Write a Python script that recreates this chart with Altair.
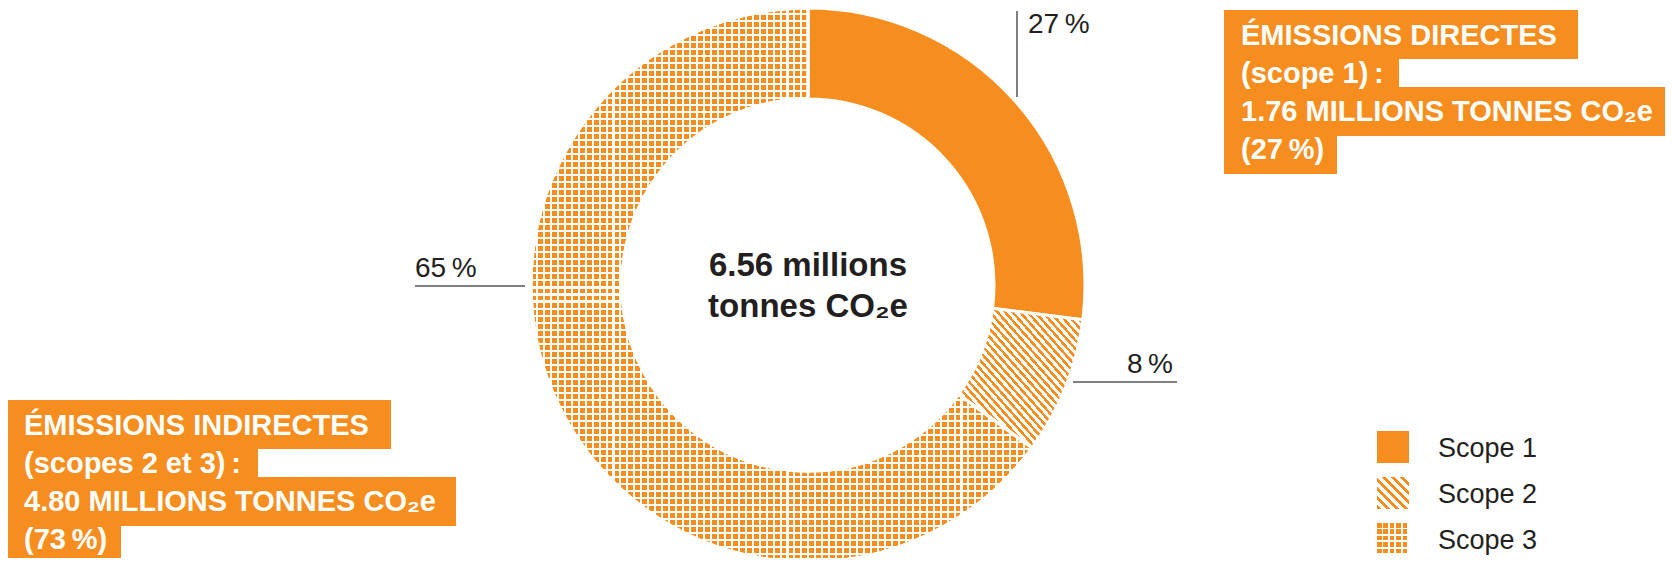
import altair as alt
import pandas as pd

# ---------------- data ----------------
scopes = ["Scope 1", "Scope 2", "Scope 3"]
shares = [27, 8, 65]            # % of total emissions
total_mt = 6.56                 # millions tonnes CO2e
direct_mt = 1.76                # scope 1
indirect_mt = 4.80              # scopes 2 + 3
direct_pct = 27
indirect_pct = 73

# ---------------- style ----------------
ORANGE = "#F68E1F"
WHITE = "#FFFFFF"
CLEAR = "rgba(255,255,255,0)"
INK = "#231F20"
LINE = "#555555"
FONT = "Liberation Sans"
TS = "\u2009"  # thin space

W, H = 1657, 550
CX, CY = 800, 277
R_OUT, R_IN = 277, 186

df = pd.DataFrame({"scope": scopes, "share": shares, "order": list(range(len(scopes)))})
one = pd.DataFrame({"k": [0]})


def stripes(n, on_frac, on, off, x1=0, y1=0, x2=1, y2=0):
    stops = []
    for i in range(n):
        a = i / n
        b = (i + on_frac) / n
        c = (i + 1) / n
        stops += [
            alt.GradientStop(offset=a, color=on),
            alt.GradientStop(offset=b, color=on),
            alt.GradientStop(offset=b, color=off),
            alt.GradientStop(offset=c, color=off),
        ]
    return alt.LinearGradient(gradient="linear", stops=stops, x1=x1, y1=y1, x2=x2, y2=y2)


base = alt.Chart(df).transform_window(
    cum="sum(share)", sort=[alt.SortField("order")], frame=[None, 0]
).transform_calculate(start="datum.cum - datum.share")

theta_scale = alt.Scale(domain=[0, 100], range=[0, 6.283185307179586])


def arc_layer(scope, fill):
    return base.transform_filter(alt.datum.scope == scope).mark_arc(
        innerRadius=R_IN, outerRadius=R_OUT, fill=fill, stroke=WHITE, strokeWidth=3
    ).encode(
        theta=alt.Theta("start:Q", scale=theta_scale),
        theta2="cum:Q",
        x=alt.value(CX),
        y=alt.value(CY),
    )


arcs = [
    arc_layer("Scope 1", ORANGE),
    arc_layer("Scope 2", stripes(33, 0.45, ORANGE, WHITE, x1=0, y1=1, x2=1, y2=0)),
    arc_layer("Scope 3", stripes(72, 0.71, ORANGE, WHITE, x2=1, y2=0)),
    arc_layer("Scope 3", stripes(79, 0.71, CLEAR, WHITE, x2=0, y2=1)),
]

# ---------------- legend ----------------
leg_y = alt.Y("scope:N", scale=alt.Scale(type="point", range=[439, 531], padding=0), axis=None)


def leg_square(scope, fill):
    return alt.Chart(df).transform_filter(alt.datum.scope == scope).mark_square(
        size=1024, fill=fill, opacity=1, strokeWidth=0
    ).encode(x=alt.value(1385), y=leg_y)


legend = [
    leg_square("Scope 1", ORANGE),
    leg_square("Scope 2", stripes(7, 0.45, ORANGE, WHITE, x1=0, y1=1, x2=1, y2=0)),
    leg_square("Scope 3", stripes(5, 0.72, ORANGE, WHITE, x2=1, y2=0)),
    leg_square("Scope 3", stripes(5, 0.72, CLEAR, WHITE, x2=0, y2=1)),
    alt.Chart(df).mark_text(align="left", baseline="alphabetic", dy=10, font=FONT,
                            fontSize=27, color=INK).encode(
        x=alt.value(1430), y=leg_y, text="scope:N"),
]

# ---------------- percent labels + leader lines ----------------


def pct_label(scope, x, y, align):
    return base.transform_filter(alt.datum.scope == scope).transform_calculate(
        label=f"datum.share + '{TS}%'"
    ).mark_text(align=align, baseline="alphabetic", font=FONT, fontSize=28, color=INK).encode(
        x=alt.value(x), y=alt.value(y), text="label:N")


def rule(x, x2, y, y2):
    return alt.Chart(one).mark_rule(color=LINE, strokeWidth=1.5).encode(
        x=alt.value(x), x2=alt.value(x2), y=alt.value(y), y2=alt.value(y2))


labels = [
    rule(1009, 1009, 3, 89), pct_label("Scope 1", 1020, 25, "left"),
    rule(1065, 1169, 374, 374), pct_label("Scope 2", 1165, 365, "right"),
    rule(407, 517, 278, 278), pct_label("Scope 3", 407, 269, "left"),
]

# ---------------- centre text ----------------
centre = alt.Chart(one).mark_text(
    align="center", baseline="alphabetic", font=FONT, fontSize=33, fontWeight="bold",
    color=INK, lineHeight=41
).encode(x=alt.value(CX), y=alt.value(268),
         text=alt.value([f"{total_mt:.2f} millions", "tonnes CO\u2082e"]))

# ---------------- callout boxes ----------------


def box(rows, text_x, text_y, lines):
    layers = []
    for (x0, x1, y0, y1) in rows:
        layers.append(alt.Chart(one).mark_rect(color=ORANGE).encode(
            x=alt.value(x0), x2=alt.value(x1), y=alt.value(y0), y2=alt.value(y1)))
    layers.append(alt.Chart(one).mark_text(
        align="left", baseline="alphabetic", font=FONT, fontSize=29, fontWeight="bold",
        color=WHITE, lineHeight=38
    ).encode(x=alt.value(text_x), y=alt.value(text_y), text=alt.value(lines)))
    return layers


box_direct = box(
    [(1216, 1570, 2, 51), (1216, 1391, 51, 79), (1216, 1665, 79, 128), (1216, 1329, 128, 166)],
    1233, 37,
    ["ÉMISSIONS DIRECTES", f"(scope 1){TS}:", f"{direct_mt:.2f} MILLIONS TONNES CO\u2082e",
     f"({direct_pct}{TS}%)"],
)
box_indirect = box(
    [(0, 383, 392, 441), (0, 250, 441, 469), (0, 448, 469, 518), (0, 113, 518, 555)],
    16, 427,
    ["ÉMISSIONS INDIRECTES", f"(scopes 2 et 3){TS}:", f"{indirect_mt:.2f} MILLIONS TONNES CO\u2082e",
     f"({indirect_pct}{TS}%)"],
)

chart = alt.layer(*arcs, *labels, centre, *box_direct, *box_indirect, *legend).properties(
    width=W, height=H, padding=0, autosize=alt.AutoSizeParams(type="none")
).configure_view(stroke=None)

chart.save("out.html", embed_options={"renderer": "svg", "actions": False})
